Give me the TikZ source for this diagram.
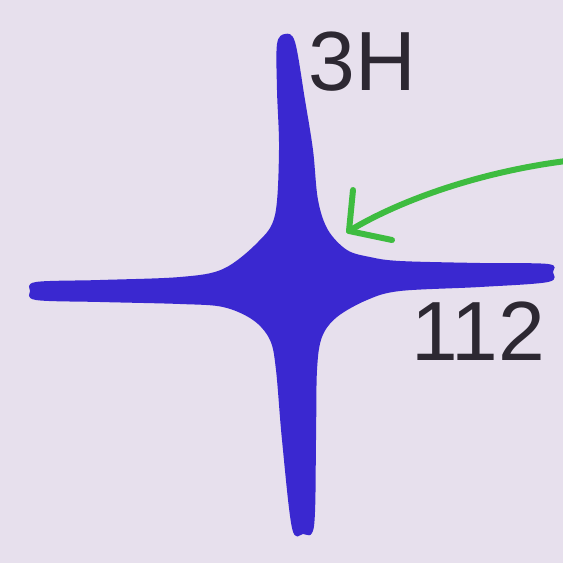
\documentclass[tikz,border=0pt]{standalone}
\usepackage{fontspec}
\setmainfont{Liberation Sans}
\definecolor{bgc}{RGB}{231,224,237}
\definecolor{starblue}{RGB}{58,40,208}
\definecolor{arrowgreen}{RGB}{62,188,64}
\definecolor{ink}{RGB}{45,40,50}
\tikzset{
  lbl/.style={text=ink, inner sep=0pt, font=\fontsize{84}{84}\selectfont},
  greenarrow/.style={draw=arrowgreen, line width=6pt, line cap=round, line join=round}
}
\begin{document}
\begin{tikzpicture}[x=1pt,y=-1pt]
\fill[bgc] (0,0) rectangle (563,563);
\useasboundingbox (0,0) rectangle (563,563);
% star
\fill[starblue] plot[smooth cycle, tension=0.55] coordinates {
  (285,34) (295,42) (305,100) (313,150) (318,200) (328,230) (347,250) (370,257) (400,261)
  (480,263) (548,264) (553,272) (548,282) (480,287) (400,291) (367,300) (337,317)
  (322,337) (317,370) (316,440) (314,526) (303,534) (292,528) (282,440) (276,370)
  (270,340) (253,320) (223,307) (180,304) (100,302) (36,300) (30,291) (36,282) (100,280)
  (180,277) (223,269) (258,242) (275,215) (279,150) (277,90) (277,44) };
% labels
\node[lbl] (h) at (362,62) {3H};
\node[lbl] (n) at (478,331) {112};
% arrow
\coordinate (a0) at (566,161);
\coordinate (a1) at (349,231);
\coordinate (h1) at (353,190);
\coordinate (h2) at (392,240);
\draw[greenarrow] (a0) .. controls (480,172) and (400,200) .. (a1);
\draw[greenarrow] (h1) -- (a1) -- (h2);
\end{tikzpicture}
\end{document}
